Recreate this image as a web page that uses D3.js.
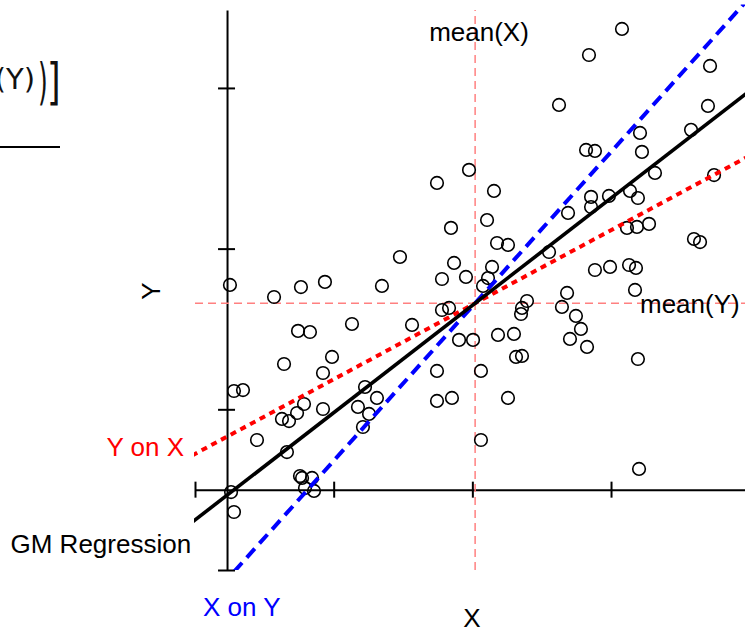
<!DOCTYPE html>
<html>
<head>
<meta charset="utf-8">
<script src="https://cdn.jsdelivr.net/npm/d3@7"></script>
<style>
  html, body { margin: 0; padding: 0; background: #fff; }
  svg { display: block; }
  text { font-family: "Liberation Sans", Arial, sans-serif; }
</style>
</head>
<body>
<svg id="chart" width="745" height="630"></svg>
<script>
// ---- data (arbitrary units: tick spacing = 1) ----
const xValues = [
  0.252,0.764,0.937,1.348,0.570,0.743,0.829,1.132,0.642,0.988,
  0.923,0.281,0.346,1.226,1.312,0.786,0.736,0.627,0.678,0.923,
  1.175,1.255,1.211,0.447,0.663,0.757,0.772,0.844,0.793,0.858,
  0.260,0.281,1.976,1.745,2.156,2.106,1.846,2.178,2.257,1.478,
  1.868,2.142,1.781,1.954,2.113,2.077,2.394,2.358,2.351,1.781,
  1.832,1.565,2.185,2.300,1.904,2.005,2.315,2.358,1.745,2.062,
  1.745,1.853,2.257,2.062,3.079,2.841,3.714,2.625,3.699,3.209,
  3.577,2.820,2.884,3.223,3.317,3.743,2.856,2.985,3.137,3.194,
  2.856,2.690,2.553,3.115,3.187,3.274,3.598,3.642,2.884,2.993,
  3.130,3.180,2.683,3.173,2.646,2.747,2.783,2.704,2.827,3.194,
  3.202
];
const yValues = [
  1.774,1.761,1.793,1.768,1.699,1.488,1.481,1.531,1.282,1.326,
  1.226,1.114,1.120,1.139,1.071,1.033,0.977,0.940,0.927,1.002,
  1.015,0.971,0.890,0.809,0.734,0.585,0.573,0.573,0.510,0.492,
  0.485,0.361,2.490,2.409,2.359,2.178,2.129,2.035,2.023,1.948,
  1.911,1.886,1.811,1.824,1.817,1.768,1.674,1.631,1.593,1.618,
  1.631,1.525,1.463,1.469,1.432,1.432,1.326,1.332,1.239,1.239,
  1.052,1.071,1.071,0.809,3.367,3.205,3.137,2.894,2.888,2.720,
  2.739,2.614,2.608,2.602,2.471,2.458,2.322,2.328,2.359,2.315,
  2.259,2.222,1.979,2.129,2.135,2.154,2.060,2.041,1.867,1.886,
  1.898,1.880,1.724,1.743,1.637,1.581,1.500,1.438,1.388,1.313,
  0.629
];
const meanX = 2.02;
const meanY = 1.66;
const slopeYonX = 0.464;   // regression of Y on X
const slopeXonY = 0.961;   // regression of X on Y (as dY/dX)
const slopeGM = Math.sqrt(slopeYonX * slopeXonY); // geometric mean regression
const xTicks = [0, 1, 2, 3, 4];
const yTicks = [0, 1, 2, 3];
const labels = { xAxis: "X", yAxis: "Y", meanX: "mean(X)", meanY: "mean(Y)",
                 yOnX: "Y on X", xOnY: "X on Y", gm: "GM Regression" };

// ---- scales ----
const x = d3.scaleLinear().domain([0, 4]).range([195, 749.7]);
const y = d3.scaleLinear().domain([0, 3.485]).range([570, 10]);
const xAxisAtY = 0.5;     // where the X axis crosses
const yAxisAtX = 0.231;   // where the Y axis crosses
const plotTop = 3.52;

const svg = d3.select("#chart");
svg.append("rect").attr("width", 745).attr("height", 630).attr("fill", "#fff");

svg.append("defs").append("clipPath").attr("id", "plotclip")
  .append("rect")
  .attr("x", x(0) - 1).attr("y", y(plotTop))
  .attr("width", x(4) - x(0) + 1).attr("height", y(0) - y(plotTop));

// ---- axes ----
const xAxisG = svg.append("g")
  .attr("transform", `translate(0,${y(xAxisAtY)})`)
  .call(d3.axisBottom(x).tickValues(xTicks).tickSize(8).tickSizeOuter(0).tickFormat(""));
xAxisG.selectAll(".tick line").attr("y1", -8).attr("y2", 8)
  .attr("stroke", "#000").attr("stroke-width", 2);
xAxisG.select(".domain").attr("stroke", "#000").attr("stroke-width", 2);

const yAxisG = svg.append("g")
  .attr("transform", `translate(${x(yAxisAtX)},0)`)
  .call(d3.axisLeft(y).tickValues(yTicks).tickSize(8).tickSizeOuter(0).tickFormat(""));
yAxisG.selectAll(".tick line").attr("x1", -9).attr("x2", 8)
  .attr("stroke", "#000").attr("stroke-width", 2);
yAxisG.select(".domain").attr("stroke", "#000").attr("stroke-width", 2);

// ---- mean lines ----
svg.append("line")
  .attr("x1", x(meanX)).attr("x2", x(meanX))
  .attr("y1", y(0)).attr("y2", y(3.485))
  .attr("stroke", "#ff8080").attr("stroke-width", 1.5).attr("stroke-dasharray", "8,5");
svg.append("line")
  .attr("x1", x(0)).attr("x2", x(4))
  .attr("y1", y(meanY)).attr("y2", y(meanY))
  .attr("stroke", "#ff8080").attr("stroke-width", 1.5).attr("stroke-dasharray", "8,5");

// ---- points ----
const pts = xValues.map((v, i) => ({ x: v, y: yValues[i] }));
svg.append("g").selectAll("circle").data(pts).join("circle")
  .attr("cx", d => x(d.x)).attr("cy", d => y(d.y)).attr("r", 6.3)
  .attr("fill", "none").attr("stroke", "#000").attr("stroke-width", 1.6);

// ---- regression lines ----
const lineGen = d3.line().x(d => x(d[0])).y(d => y(d[1]));
function regLine(slope) {
  return [[-1, meanY + slope * (-1 - meanX)], [5, meanY + slope * (5 - meanX)]];
}
const lg = svg.append("g").attr("clip-path", "url(#plotclip)");
lg.append("path").attr("d", lineGen(regLine(slopeYonX)))
  .attr("fill", "none").attr("stroke", "#ff0000").attr("stroke-width", 4)
  .attr("stroke-dasharray", "6,5");
lg.append("path").attr("d", lineGen(regLine(slopeXonY)))
  .attr("fill", "none").attr("stroke", "#0000ff").attr("stroke-width", 4)
  .attr("stroke-dasharray", "12,7");
lg.append("path").attr("d", lineGen(regLine(slopeGM)))
  .attr("fill", "none").attr("stroke", "#000").attr("stroke-width", 3.6);

// ---- labels ----
const fs = "26px";
svg.append("text").attr("x", 479).attr("y", 40.5).attr("text-anchor", "middle")
  .attr("font-size", fs).attr("fill", "#000").text(labels.meanX);
svg.append("text").attr("x", 640).attr("y", 313).attr("text-anchor", "start")
  .attr("font-size", fs).attr("fill", "#000").text(labels.meanY);
svg.append("text").attr("x", 106.5).attr("y", 456).attr("text-anchor", "start")
  .attr("font-size", fs).attr("fill", "#ff0000").text(labels.yOnX);
svg.append("text").attr("x", 10.5).attr("y", 553).attr("text-anchor", "start")
  .attr("font-size", fs).attr("fill", "#000").text(labels.gm);
svg.append("text").attr("x", 203).attr("y", 616).attr("text-anchor", "start")
  .attr("font-size", fs).attr("fill", "#0000ff").text(labels.xOnY);
svg.append("text").attr("x", 472).attr("y", 627).attr("text-anchor", "middle")
  .attr("font-size", fs).attr("fill", "#000").text(labels.xAxis);
svg.append("text").attr("transform", "translate(160,291) rotate(-90)")
  .attr("text-anchor", "middle").attr("font-size", fs).attr("fill", "#000").text(labels.yAxis);

// ---- cut-off formula fragment (top-left) ----
svg.append("text").attr("x", 35).attr("y", 88.5).attr("text-anchor", "end")
  .style("font-family", "'DejaVu Sans', sans-serif").attr("font-size", "29px")
  .attr("fill", "#111").text("(Y)");
svg.append("text").attr("transform", "translate(38,99) scale(0.5,1)")
  .style("font-family", "'DejaVu Sans', sans-serif").attr("font-size", "50px")
  .attr("fill", "#111").text(")");
svg.append("text").attr("transform", "translate(47,99) scale(0.7,1)")
  .style("font-family", "'DejaVu Sans', sans-serif").attr("font-size", "50px")
  .attr("fill", "#111").text("]");
svg.append("line").attr("x1", 0).attr("x2", 60).attr("y1", 147).attr("y2", 147)
  .attr("stroke", "#000").attr("stroke-width", 2);
</script>
</body>
</html>
